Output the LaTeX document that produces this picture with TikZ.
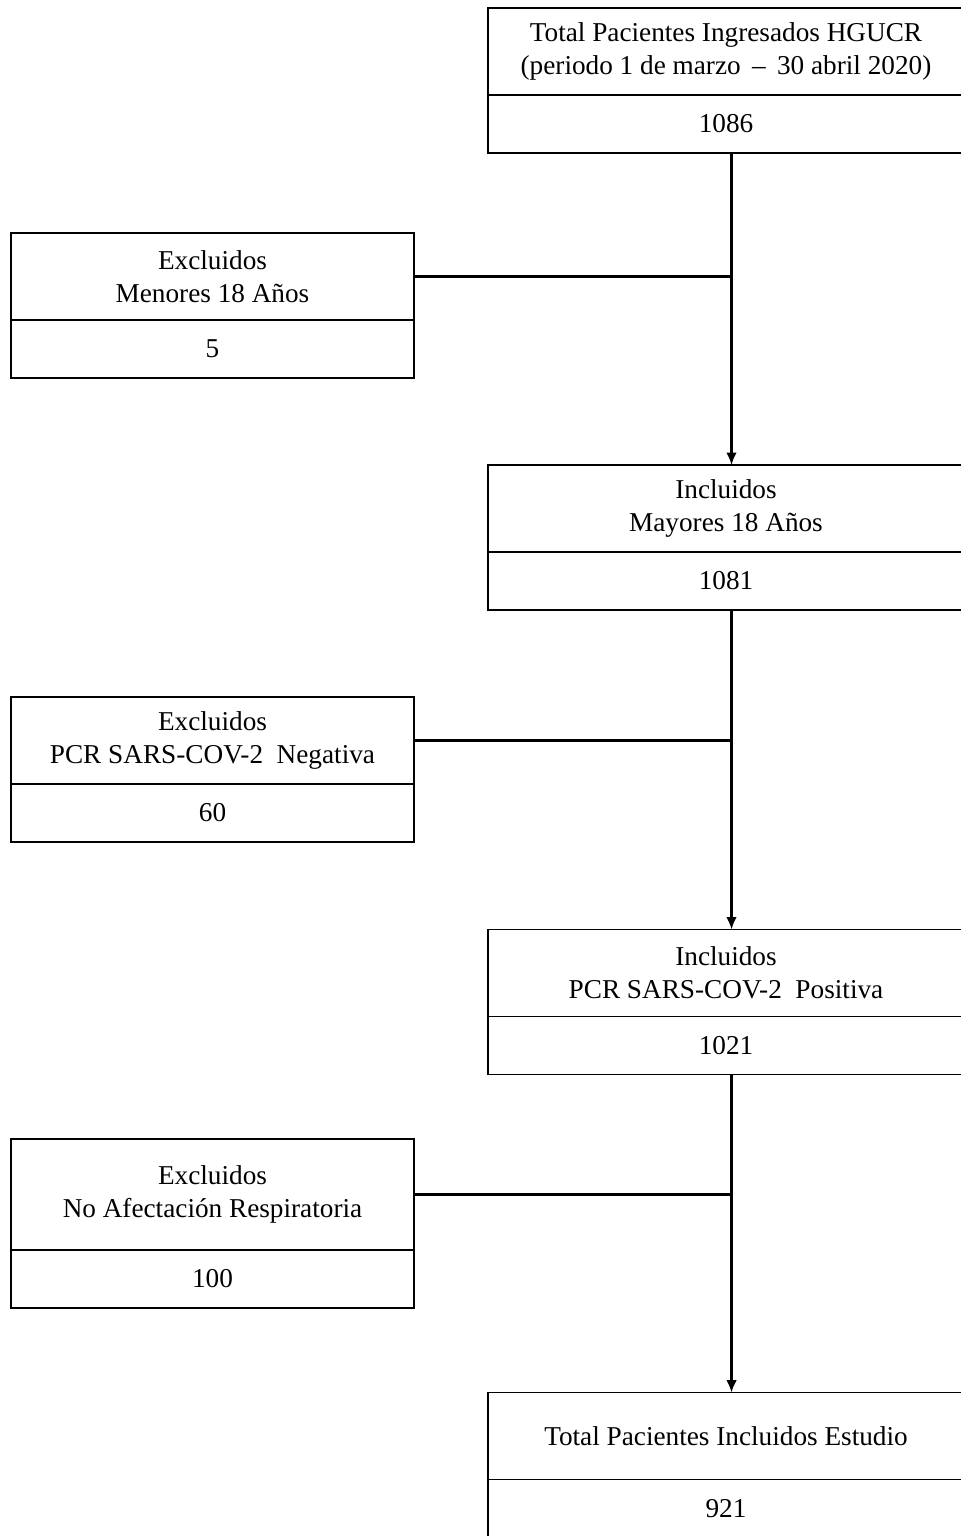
\documentclass[tikz,border=0pt]{standalone}
\usepackage{fontspec}
\setmainfont{Liberation Serif}
\usetikzlibrary{arrows.meta, positioning}

\begin{document}
\begin{tikzpicture}[
  hbox/.style={draw, line width=1.1pt, outer sep=0pt, minimum height=1.74cm, align=center, inner sep=0pt, font=\fontsize{15.5}{19}\selectfont},
  nbox/.style={draw, line width=1.1pt, outer sep=0pt, minimum height=1.16cm, align=center, inner sep=0pt, font=\fontsize{15.5}{19}\selectfont},
  wide/.style={minimum width=9.52cm},
  narrow/.style={minimum width=8.06cm},
  link/.style={line width=1.2pt},
  flow/.style={link, -{Latex[length=7pt, width=6pt]}}
]
  \useasboundingbox (0,0) rectangle (19.2,-30.72);
  \coordinate (spine) at (14.63,0);
  % included (right column)
  \node[hbox, wide] (total) at (14.52,-1.03) {Total Pacientes Ingresados HGUCR\\(periodo 1 de marzo \,--\, 30 abril 2020)};
  \node[nbox, wide, below=0pt of total] (totaln) {1086};
  \node[hbox, wide] (adults) at (14.52,-10.17) {Incluidos\\Mayores 18 Años};
  \node[nbox, wide, below=0pt of adults] (adultsn) {1081};
  \node[hbox, wide] (pcrpos) at (14.52,-19.46) {Incluidos\\PCR SARS-COV-2\ \ Positiva};
  \node[nbox, wide, below=0pt of pcrpos] (pcrposn) {1021};
  \node[hbox, wide] (study) at (14.52,-28.72) {Total Pacientes Incluidos Estudio};
  \node[nbox, wide, below=0pt of study] (studyn) {921};
  % excluded (left column)
  \node[hbox, narrow] (minors) at (4.25,-5.53) {Excluidos\\Menores 18 Años};
  \node[nbox, narrow, below=0pt of minors] (minorsn) {5};
  \node[hbox, narrow] (pcrneg) at (4.25,-14.81) {Excluidos\\PCR SARS-COV-2\ \ Negativa};
  \node[nbox, narrow, below=0pt of pcrneg] (pcrnegn) {60};
  \node[hbox, narrow, minimum height=2.22cm] (norespi) at (4.25,-23.89) {Excluidos\\No Afectación Respiratoria};
  \node[nbox, narrow, below=0pt of norespi] (norespin) {100};
  % connectors
  \draw[flow] (totaln.south -| spine) -- (adults.north -| spine);
  \draw[flow] (adultsn.south -| spine) -- (pcrpos.north -| spine);
  \draw[flow] (pcrposn.south -| spine) -- (study.north -| spine);
  \draw[link] (minors.east) -- (minors.east -| spine);
  \draw[link] (pcrneg.east) -- (pcrneg.east -| spine);
  \draw[link] (norespi.east) -- (norespi.east -| spine);
\end{tikzpicture}
\end{document}
